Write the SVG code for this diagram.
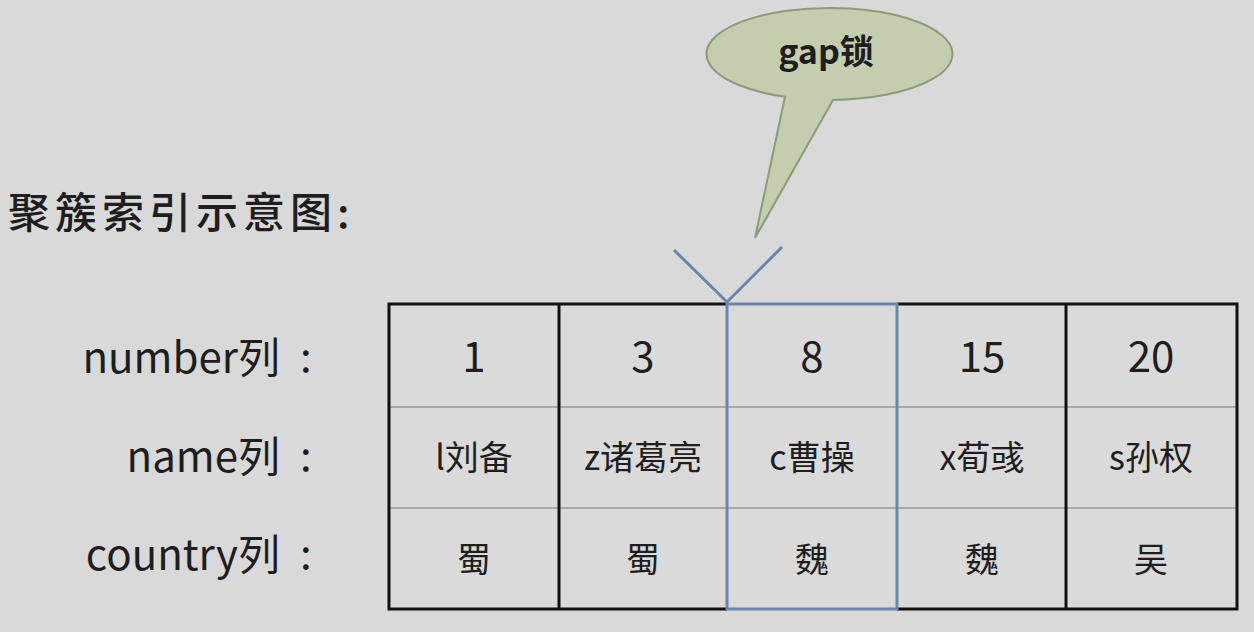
<svg xmlns="http://www.w3.org/2000/svg" width="1254" height="632" viewBox="0 0 1254 632">
<style>
text{font-family:"Noto Sans CJK SC","Noto Sans",sans-serif;fill:#1e1e1e}
.num{font-size:42px;text-anchor:middle}
.cell{font-size:34px;text-anchor:middle}
.lbl{font-size:42px}
.sep{stroke:#a8a8a8;stroke-width:2}
.blk{stroke:#111;stroke-width:3;fill:none}
.blu{stroke:#6c86ab;stroke-width:3;fill:none}
</style>
<rect width="1254" height="632" fill="#d9d9d9"/>
<g id="title">
<text x="8" y="228" style="font-size:42px;letter-spacing:5px;font-weight:500">聚簇索引示意图:</text>
</g>
<g id="labels">
<text class="lbl" x="280" y="373" text-anchor="end">number列</text>
<text class="lbl" x="300" y="372">:</text>
<text class="lbl" x="280" y="472" text-anchor="end">name列</text>
<text class="lbl" x="300" y="471">:</text>
<text class="lbl" x="280" y="570" text-anchor="end">country列</text>
<text class="lbl" x="300" y="569">:</text>
</g>
<g id="table">
<rect x="389" y="304" width="848" height="305" fill="#dadada"/>
<line class="sep" x1="389" y1="407" x2="1237" y2="407"/>
<line class="sep" x1="389" y1="508" x2="1237" y2="508"/>
<path class="blk" d="M727 304 H389 V609 H727 M897 304 H1237 V609 H897 M559 304 V609 M1066 304 V609"/>
</g>
<g id="col1">
<text class="num" x="474" y="372">1</text>
<text class="cell" x="474" y="470">l刘备</text>
<text class="cell" x="474" y="572">蜀</text>
</g>
<g id="col3">
<text class="num" x="643" y="372">3</text>
<text class="cell" x="643" y="470">z诸葛亮</text>
<text class="cell" x="643" y="572">蜀</text>
</g>
<g id="col8">
<rect class="blu" x="727" y="304" width="170" height="305"/>
<text class="num" x="812" y="372">8</text>
<text class="cell" x="812" y="470">c曹操</text>
<text class="cell" x="812" y="572">魏</text>
</g>
<g id="col15">
<text class="num" x="982" y="372">15</text>
<text class="cell" x="982" y="470">x荀彧</text>
<text class="cell" x="982" y="572">魏</text>
</g>
<g id="col20">
<text class="num" x="1151" y="372">20</text>
<text class="cell" x="1151" y="470">s孙权</text>
<text class="cell" x="1151" y="572">吴</text>
</g>
<g id="gap-lock">
<path d="M785 96.8 L755 238 L833 99.9 A123 46 0 1 0 785 96.8 Z" fill="#c4ceae" stroke="#8e9a7c" stroke-width="2"/>
<text x="826" y="64" style="font-size:34px;font-weight:bold;text-anchor:middle">gap锁</text>
</g>
<g id="connectors">
<path class="blu" d="M674 250 L727 302 L782 247"/>
</g>
</svg>
